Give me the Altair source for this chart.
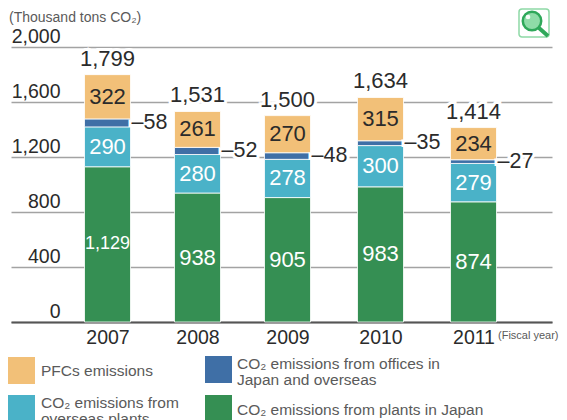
import altair as alt
import pandas as pd

years = [2007, 2008, 2009, 2010, 2011]
plants = [1129, 938, 905, 983, 874]
overseas = [290, 280, 278, 300, 279]
offices = [58, 52, 48, 35, 27]
pfcs = [322, 261, 270, 315, 234]
totals = ["1,799", "1,531", "1,500", "1,634", "1,414"]
series_names = ["plants", "overseas", "offices", "pfcs"]
colors = ["#358f53", "#4ab2c8", "#3f6fa6", "#f2c078"]
year_domain = [2006, 2007, 2008, 2009, 2010, 2011, 2012]
year_range = [0, 96.5, 186.5, 276.5, 369.5, 462.5, 541]

FONT = "Liberation Sans"
DARK = "#2b2b2b"
GRAY = "#5a5a5a"

rows = []
for i, yr in enumerate(years):
    base = 0
    for name, vals in zip(series_names, [plants, overseas, offices, pfcs]):
        v = vals[i]
        rows.append(dict(year=yr, series=name, value=v, base=base, top=base + v, mid=base + v / 2,
                         label=("\u2013" + str(v)) if name == "offices" else (f"{v:,}")))
        base += v
df = pd.DataFrame(rows)
tot = pd.DataFrame(dict(year=years, total=totals,
                        top=[a + b + c + d for a, b, c, d in zip(plants, overseas, offices, pfcs)]))

x = alt.X("year:Q", scale=alt.Scale(domain=year_domain, range=year_range, nice=False, zero=False),
          axis=alt.Axis(title=None, values=years, format="d", labelAngle=0, labelFontSize=19.5, labelFont=FONT,
                        labelColor=DARK, labelPadding=6, ticks=False, grid=False, domainColor="#555555",
                        domainWidth=2, labelFlush=False, labelOverlap=False))
yscale = alt.Scale(domain=[0, 2000], nice=False)
yaxis = alt.Axis(title=None, values=[0, 400, 800, 1200, 1600, 2000], format=",.0f", ticks=False, domain=False,
                 grid=True, gridColor="#a3a3a3", gridWidth=1.6, labelFontSize=19.5, labelFont=FONT,
                 labelColor=DARK, labelAlign="right", labelBaseline="bottom", labelPadding=-49,
                 labelOffset=-1)

def Y(field):
    return alt.Y(field, scale=yscale, axis=yaxis)

bars = alt.Chart(df).mark_bar(size=46, orient="vertical", stroke="#ffffff", strokeWidth=1, strokeOpacity=0.8).encode(
    x=x, y=Y("base:Q"), y2="top:Q",
    color=alt.Color("series:N", scale=alt.Scale(domain=series_names, range=colors), legend=None),
)

def inside(data, color, size):
    return alt.Chart(data).mark_text(font=FONT, fontSize=size, color=color).encode(
        x=x, y=Y("mid:Q"), text="label:N")

lab_pfc = inside(df[df.series == "pfcs"], DARK, 22)
lab_over = inside(df[df.series == "overseas"], "#ffffff", 22)
lab_plant_big = inside(df[(df.series == "plants") & (df.value >= 1000)], "#ffffff", 18)
lab_plant = inside(df[(df.series == "plants") & (df.value < 1000)], "#ffffff", 22)

off_df = df[df.series == "offices"]
off_halo = alt.Chart(off_df).mark_text(font=FONT, fontSize=21.5, align="left", dx=24, stroke="#ffffff",
                                       strokeWidth=6, color="#ffffff").encode(
    x=x, y=Y("mid:Q"), text="label:N")
off_text = alt.Chart(off_df).mark_text(font=FONT, fontSize=21.5, align="left", dx=24, color=DARK).encode(
    x=x, y=Y("mid:Q"), text="label:N")

tot_halo = alt.Chart(tot).mark_text(font=FONT, fontSize=22, dy=-16, stroke="#ffffff", strokeWidth=6,
                                    color="#ffffff").encode(x=x, y=Y("top:Q"), text="total:N")
tot_text = alt.Chart(tot).mark_text(font=FONT, fontSize=22, dy=-16, color=DARK).encode(
    x=x, y=Y("top:Q"), text="total:N")

one = pd.DataFrame({"a": [0]})

def note(text, px, py, size, color=GRAY, align="left"):
    return alt.Chart(one).mark_text(text=text, font=FONT, fontSize=size, color=color, align=align,
                                    baseline="middle").encode(x=alt.value(px - 11), y=alt.value(py - 47))

def swatch(color, x0, x1, y0, y1):
    return alt.Chart(one).mark_rect(color=color).encode(
        x=alt.value(x0 - 11), x2=alt.value(x1 - 11), y=alt.value(y0 - 47), y2=alt.value(y1 - 47))

icon_box = alt.Chart(one).mark_rect(fill="#ffffff", stroke="#8ed9a6", strokeWidth=1.5, cornerRadius=3).encode(
    x=alt.value(519 - 11), x2=alt.value(549 - 11), y=alt.value(9 - 47), y2=alt.value(37 - 47))
icon_handle = alt.Chart(one).mark_rule(color="#2fa85a", strokeWidth=4).encode(
    x=alt.value(539 - 11), x2=alt.value(548 - 11), y=alt.value(28 - 47), y2=alt.value(36 - 47))
icon_lens = alt.Chart(one).mark_point(filled=False, fill="#8fdca8", fillOpacity=1, stroke="#2fa85a", strokeWidth=2.5,
                                      shape="circle", size=340).encode(x=alt.value(532 - 11), y=alt.value(21 - 47))
icon_glint = alt.Chart(one).mark_point(filled=True, color="#ffffff", opacity=0.9, shape="circle", size=22).encode(
    x=alt.value(528 - 11), y=alt.value(17 - 47))

layers = [bars, lab_pfc, lab_over, lab_plant_big, lab_plant, off_halo, off_text, tot_halo, tot_text,
          note("(Thousand tons CO\u2082)", 9, 18, 14),
          note("(Fiscal year)", 498, 336, 11),
          swatch(colors[3], 8, 35, 357, 384),
          note("PFCs emissions", 41, 371, 15.5),
          swatch(colors[2], 205, 232, 356, 383),
          note("CO\u2082 emissions from offices in", 237, 364, 15.5),
          note("Japan and overseas", 237, 380, 15.5),
          swatch(colors[1], 8, 35, 395, 425),
          note("CO\u2082 emissions from", 41, 403, 15.5),
          note("overseas plants", 41, 419, 15.5),
          swatch(colors[0], 205, 232, 395, 425),
          note("CO\u2082 emissions from plants in Japan", 237, 410, 15.5),
          icon_box, icon_handle, icon_lens, icon_glint]

chart = alt.layer(*layers).properties(
    width=541, height=275,
    padding={"left": 3, "top": 39, "right": 7, "bottom": 98},
    autosize=alt.AutoSizeParams(type="none"),
    background="#ffffff",
).configure_view(stroke=None)

chart.save("out.html", embed_options={"renderer": "svg", "actions": False})
